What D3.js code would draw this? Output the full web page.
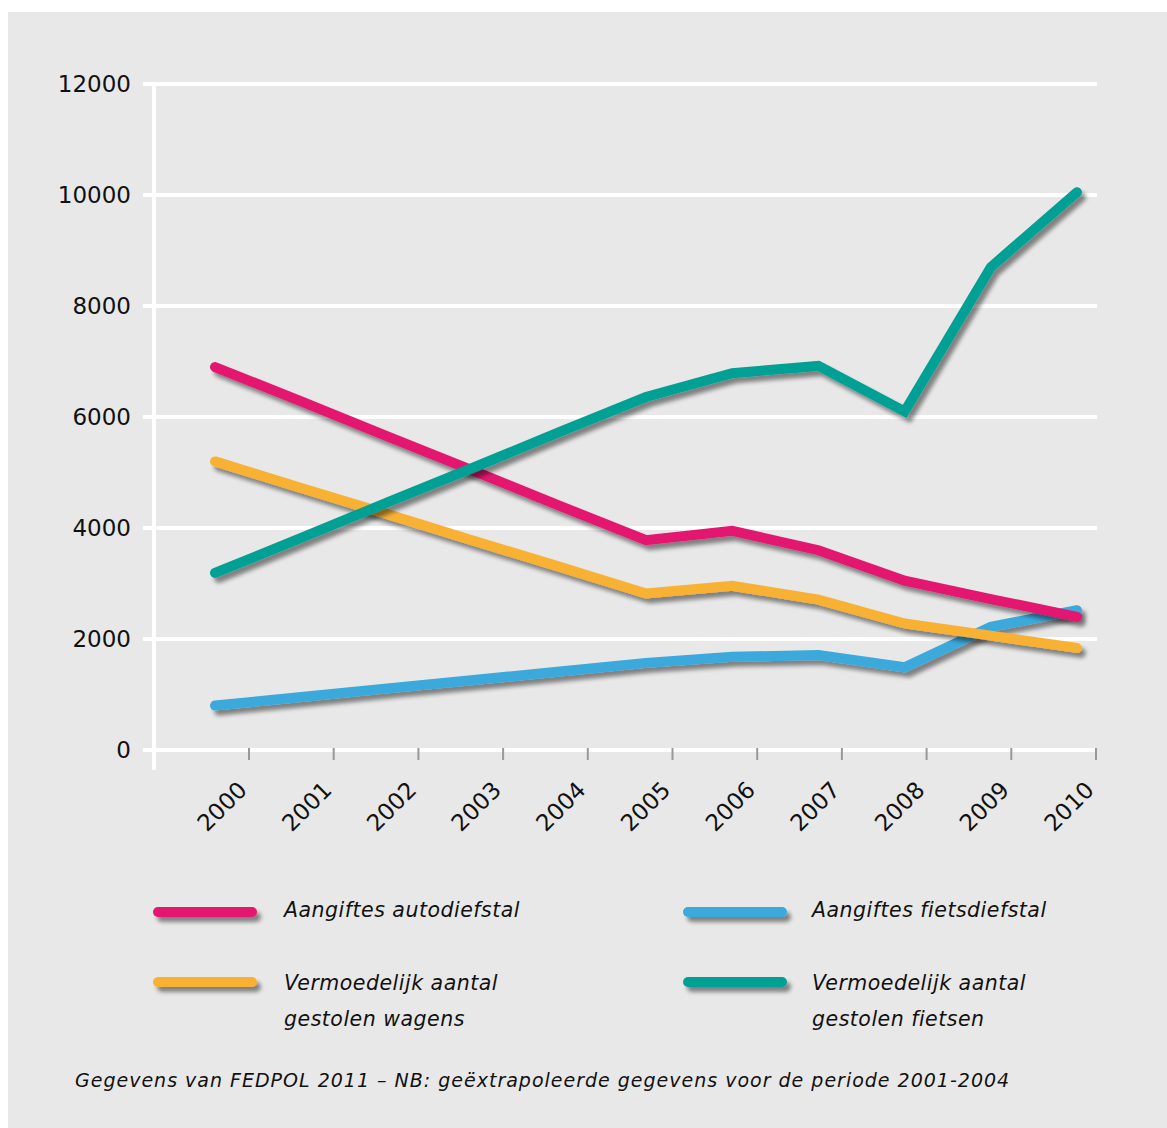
<!DOCTYPE html>
<html>
<head>
<meta charset="utf-8">
<script src="https://cdn.jsdelivr.net/npm/d3@7"></script>
<style>
  body { margin: 0; background: #fff; }
  text { font-family: "DejaVu Sans", sans-serif; fill: #111; }
</style>
</head>
<body>
<div id="chart"></div>
<script>
// data
var years = [2000, 2001, 2002, 2003, 2004, 2005, 2006, 2007, 2008, 2009, 2010];
var autoReports   = [6900, 6280, 5650, 5030, 4400, 3780, 3950, 3600, 3050, 2720, 2400];
var carsStolen    = [5200, 4720, 4250, 3770, 3300, 2820, 2960, 2710, 2280, 2060, 1840];
var bikeReports   = [800, 955, 1110, 1260, 1415, 1570, 1680, 1710, 1490, 2220, 2520];
var bikesStolen   = [3190, 3820, 4460, 5090, 5730, 6360, 6790, 6920, 6100, 8700, 10050];
var yTicks = [0, 2000, 4000, 6000, 8000, 10000, 12000];

var series = [
  {name: ["Aangiftes autodiefstal"], values: autoReports, color: "#e31470"},
  {name: ["Vermoedelijk aantal", "gestolen wagens"], values: carsStolen, color: "#f8b133"},
  {name: ["Aangiftes fietsdiefstal"], values: bikeReports, color: "#3aa9dc"},
  {name: ["Vermoedelijk aantal", "gestolen fietsen"], values: bikesStolen, color: "#00a095"}
];
// draw order: blue, orange, pink, teal on top
var drawOrder = [2, 1, 0, 3];

var W = 1167, H = 1128;
var svg = d3.select("#chart").append("svg")
  .attr("width", W).attr("height", H);

// shadow filter (user space so flat legend lines get it too)
var defs = svg.append("defs");
var f = defs.append("filter").attr("id", "shadow")
  .attr("filterUnits", "userSpaceOnUse")
  .attr("x", 0).attr("y", 0).attr("width", W).attr("height", H);
f.append("feGaussianBlur").attr("in", "SourceAlpha").attr("stdDeviation", 2.2).attr("result", "blur");
f.append("feOffset").attr("in", "blur").attr("dx", 4).attr("dy", 5).attr("result", "off");
f.append("feComponentTransfer").attr("in", "off").attr("result", "sh")
  .append("feFuncA").attr("type", "linear").attr("slope", 0.45);
var merge = f.append("feMerge");
merge.append("feMergeNode").attr("in", "sh");
merge.append("feMergeNode").attr("in", "SourceGraphic");

// panel
svg.append("rect").attr("x", 8).attr("y", 12).attr("width", W - 8).attr("height", H - 12)
  .attr("fill", "#e8e8e8");

var y = d3.scaleLinear().domain([0, 12000]).range([750, 84]);
var x = d3.scaleLinear().domain([2000, 2010]).range([215, 1077]);
var xTick = d3.scaleLinear().domain([2000, 2010]).range([249, 1096]);

// gridlines
svg.append("g").selectAll("line").data(yTicks).enter().append("line")
  .attr("x1", 143).attr("x2", 1097)
  .attr("y1", function(d) { return y(d); })
  .attr("y2", function(d) { return y(d); })
  .attr("stroke", "#fff").attr("stroke-width", 4);

// y axis line
svg.append("line").attr("x1", 154).attr("x2", 154)
  .attr("y1", y(12000)).attr("y2", 770)
  .attr("stroke", "#fff").attr("stroke-width", 4);

// y labels
svg.append("g").selectAll("text").data(yTicks).enter().append("text")
  .attr("x", 131).attr("y", function(d) { return y(d) + 8; })
  .attr("text-anchor", "end").style("font-size", "23px")
  .text(function(d) { return d; });

// x ticks
svg.append("g").selectAll("line").data(years).enter().append("line")
  .attr("x1", function(d) { return xTick(d); })
  .attr("x2", function(d) { return xTick(d); })
  .attr("y1", 748).attr("y2", 760)
  .attr("stroke", "#999").attr("stroke-width", 2);

svg.append("g").selectAll("text").data(years).enter().append("text")
  .attr("transform", function(d) { return "translate(" + (xTick(d) - 12) + ",780) rotate(-45)"; })
  .attr("text-anchor", "end").attr("dy", "0.7em")
  .style("font-size", "23px")
  .text(function(d) { return d; });

// lines
var line = d3.line()
  .x(function(d, i) { return x(years[i]); })
  .y(function(d) { return y(d); });

drawOrder.forEach(function(k) {
  var s = series[k];
  svg.append("path")
    .datum(s.values)
    .attr("fill", "none")
    .attr("stroke", s.color)
    .attr("stroke-width", 10)
    .attr("stroke-linecap", "round")
    .attr("stroke-linejoin", "miter")
    .attr("filter", "url(#shadow)")
    .attr("d", line);
});

// legend
var legPos = [
  {lx: 158, ly: 912, tx: 284, ty: 917},
  {lx: 158, ly: 982, tx: 284, ty: 990},
  {lx: 688, ly: 912, tx: 812, ty: 917},
  {lx: 688, ly: 982, tx: 812, ty: 990}
];
series.forEach(function(s, i) {
  var p = legPos[i];
  svg.append("line")
    .attr("x1", p.lx).attr("x2", p.lx + 94)
    .attr("y1", p.ly).attr("y2", p.ly)
    .attr("stroke", s.color).attr("stroke-width", 10)
    .attr("stroke-linecap", "round")
    .attr("filter", "url(#shadow)");
  s.name.forEach(function(t, j) {
    svg.append("text")
      .attr("x", p.tx).attr("y", p.ty + j * 36)
      .style("font-size", "20.5px").style("font-style", "italic")
      .style("letter-spacing", "0.5px")
      .text(t);
  });
});

// footnote
svg.append("text")
  .attr("x", 75).attr("y", 1087)
  .style("font-size", "19px").style("font-style", "italic")
  .style("letter-spacing", "1px")
  .text("Gegevens van FEDPOL 2011 \u2013 NB: ge\u00ebxtrapoleerde gegevens voor de periode 2001-2004");
</script>
</body>
</html>
